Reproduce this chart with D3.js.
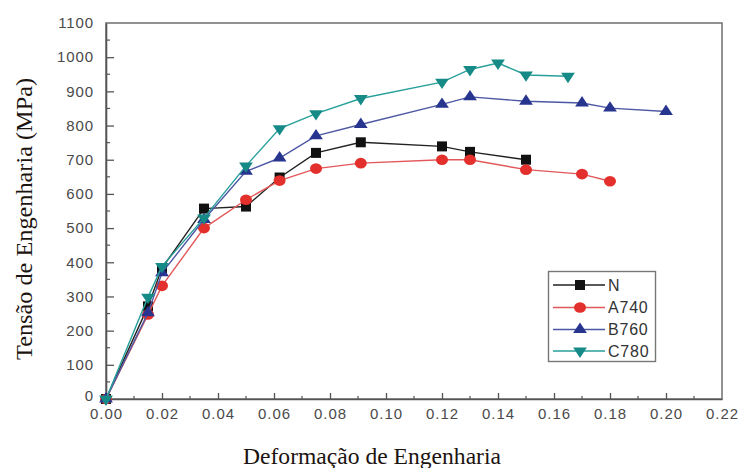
<!DOCTYPE html>
<html>
<head>
<meta charset="utf-8">
<script src="https://cdn.jsdelivr.net/npm/d3@7"></script>
<style>
  html, body { margin: 0; padding: 0; background: #fff; }
  svg { display: block; }
</style>
</head>
<body>
<svg id="chart" width="742" height="468"></svg>
<script>
// Engineering stress–strain curves for four conditions
const strainN = [0, 0.015, 0.02, 0.035, 0.05, 0.062, 0.075, 0.091, 0.12, 0.13, 0.15];
const stressN = [0, 271, 383, 557, 563, 648, 720, 751, 739, 723, 700];

const strainA = [0, 0.015, 0.02, 0.035, 0.05, 0.062, 0.075, 0.091, 0.12, 0.13, 0.15, 0.17, 0.18];
const stressA = [0, 247, 331, 500, 583, 639, 674, 690, 700, 700, 671, 658, 637];

const strainB = [0, 0.015, 0.02, 0.035, 0.05, 0.062, 0.075, 0.091, 0.12, 0.13, 0.15, 0.17, 0.18, 0.20];
const stressB = [0, 252, 369, 525, 666, 705, 770, 803, 862, 884, 871, 866, 851, 841];

const strainC = [0, 0.015, 0.02, 0.035, 0.05, 0.062, 0.075, 0.091, 0.12, 0.13, 0.14, 0.15, 0.165];
const stressC = [0, 298, 388, 530, 682, 791, 835, 879, 927, 964, 983, 948, 944];

const seriesNames = ["N", "A740", "B760", "C780"];
const xTicks = [0, 0.02, 0.04, 0.06, 0.08, 0.10, 0.12, 0.14, 0.16, 0.18, 0.20, 0.22];
const yTicks = [0, 100, 200, 300, 400, 500, 600, 700, 800, 900, 1000, 1100];

const xTitle = "Deformação de Engenharia";
const yTitle = "Tensão de Engenharia (MPa)";

const series = [
  { name: seriesNames[0], xs: strainN, ys: stressN, marker: "square",   fill: "#111111", line: "#222222" },
  { name: seriesNames[1], xs: strainA, ys: stressA, marker: "circle",   fill: "#e3302c", line: "#e2585a" },
  { name: seriesNames[2], xs: strainB, ys: stressB, marker: "triUp",    fill: "#28358f", line: "#4d58a4" },
  { name: seriesNames[3], xs: strainC, ys: stressC, marker: "triDown",  fill: "#168a86", line: "#27a09a" }
];

const svg = d3.select("#chart");
const plotLeft = 106, plotRight = 722, plotTop = 23, plotBottom = 399;

const x = d3.scaleLinear().domain([0, 0.22]).range([plotLeft, plotRight]);
const y = d3.scaleLinear().domain([0, 1100]).range([plotBottom, plotTop]);

const axisColor = "#555";
const labelColor = "#4a4a4a";
const sansFont = "Liberation Sans, Arial, sans-serif";
const serifFont = "Liberation Serif, Times New Roman, serif";

// Frame
svg.append("rect")
  .attr("x", plotLeft).attr("y", plotTop)
  .attr("width", plotRight - plotLeft).attr("height", plotBottom - plotTop)
  .attr("fill", "none").attr("stroke", "#777").attr("stroke-width", 1.6);

// Minor ticks (inward)
const xMinor = d3.range(0.01, 0.22, 0.02);
const yMinor = d3.range(50, 1100, 100);

const xAxis = d3.axisBottom(x).tickValues(xTicks).tickFormat(d3.format(".2f"))
  .tickSizeInner(-6).tickSizeOuter(0).tickPadding(9);
const gx = svg.append("g").attr("transform", `translate(0,${plotBottom})`).call(xAxis);
gx.select(".domain").attr("stroke", axisColor).attr("stroke-width", 1.6);
gx.selectAll(".tick line").attr("stroke", axisColor).attr("stroke-width", 1.3);
gx.selectAll(".tick").filter(d => d === 0.22).select("line").remove();
gx.selectAll(".tick text")
  .attr("fill", labelColor).attr("font-family", sansFont)
  .attr("font-size", 15).attr("letter-spacing", 0.9);

svg.append("g").selectAll("line").data(xMinor).join("line")
  .attr("x1", d => x(d)).attr("x2", d => x(d))
  .attr("y1", plotBottom).attr("y2", plotBottom - 3)
  .attr("stroke", axisColor).attr("stroke-width", 1.2);

const yAxis = d3.axisLeft(y).tickValues(yTicks).tickFormat(d3.format("d"))
  .tickSizeInner(-8).tickSizeOuter(0).tickPadding(12);
const gy = svg.append("g").attr("transform", `translate(${plotLeft},0)`).call(yAxis);
gy.select(".domain").attr("stroke", axisColor).attr("stroke-width", 1.6);
gy.selectAll(".tick line").attr("stroke", axisColor).attr("stroke-width", 1.3);
gy.selectAll(".tick").filter(d => d === 0 || d === 1100).select("line").remove();
gy.selectAll(".tick text")
  .attr("fill", labelColor).attr("font-family", sansFont)
  .attr("font-size", 15).attr("letter-spacing", 0.9);
// The zero label sits a little above the corner
gy.selectAll(".tick").filter(d => d === 0).select("text").attr("dy", "0.1em");

svg.append("g").selectAll("line").data(yMinor).join("line")
  .attr("x1", plotLeft).attr("x2", plotLeft + 4)
  .attr("y1", d => y(d)).attr("y2", d => y(d))
  .attr("stroke", axisColor).attr("stroke-width", 1.2);

// Axis titles
svg.append("text")
  .attr("x", 372).attr("y", 464)
  .attr("text-anchor", "middle")
  .attr("font-family", serifFont)
  .attr("font-size", 24)
  .attr("textLength", 258).attr("lengthAdjust", "spacingAndGlyphs")
  .attr("fill", "#1c1410")
  .text(xTitle);

svg.append("text")
  .attr("transform", "translate(32,219) rotate(-90)")
  .attr("text-anchor", "middle")
  .attr("font-family", serifFont)
  .attr("font-size", 24)
  .attr("textLength", 282).attr("lengthAdjust", "spacingAndGlyphs")
  .attr("fill", "#1c1410")
  .text(yTitle);

// Marker drawing
function drawMarker(g, type, fill) {
  if (type === "square") {
    g.append("rect").attr("x", -5).attr("y", -5).attr("width", 10).attr("height", 10)
      .attr("fill", fill);
  } else if (type === "circle") {
    g.append("ellipse").attr("rx", 6).attr("ry", 5.3).attr("fill", fill);
  } else if (type === "triUp") {
    g.append("path").attr("d", d3.symbol().type(d3.symbolTriangle).size(62)())
      .attr("transform", "scale(1.15,1)")
      .attr("fill", fill);
  } else {
    g.append("path").attr("d", d3.symbol().type(d3.symbolTriangle).size(62)())
      .attr("transform", "scale(1.15,1) rotate(180)")
      .attr("fill", fill);
  }
}

const lineGen = d3.line().x(d => x(d[0])).y(d => y(d[1]));

series.forEach(s => {
  const pts = s.xs.map((v, i) => [v, s.ys[i]]);
  const g = svg.append("g");
  g.append("path").datum(pts)
    .attr("d", lineGen)
    .attr("fill", "none")
    .attr("stroke", s.line)
    .attr("stroke-width", 1.4);
  g.selectAll("g.pt").data(pts).join("g")
    .attr("class", "pt")
    .attr("transform", d => `translate(${x(d[0])},${y(d[1])})`)
    .each(function() { drawMarker(d3.select(this), s.marker, s.fill); });
});

// Legend
const lg = svg.append("g");
lg.append("rect")
  .attr("x", 548.5).attr("y", 271.5).attr("width", 107).attr("height", 90)
  .attr("fill", "#fff").attr("stroke", "#777").attr("stroke-width", 1.4);

const rowY = [285, 307.5, 329.5, 351];
series.forEach((s, i) => {
  const r = lg.append("g").attr("transform", `translate(0,${rowY[i]})`);
  r.append("line").attr("x1", 553).attr("x2", 605).attr("y1", 0).attr("y2", 0)
    .attr("stroke", s.line).attr("stroke-width", 1.4);
  const m = r.append("g").attr("transform", "translate(580,0)");
  drawMarker(m, s.marker, s.fill);
  r.append("text")
    .attr("x", 608).attr("y", 0).attr("dy", "0.36em")
    .attr("font-family", sansFont)
    .attr("font-size", 16).attr("letter-spacing", 0.8)
    .attr("fill", "#333")
    .text(s.name);
});
</script>
</body>
</html>
